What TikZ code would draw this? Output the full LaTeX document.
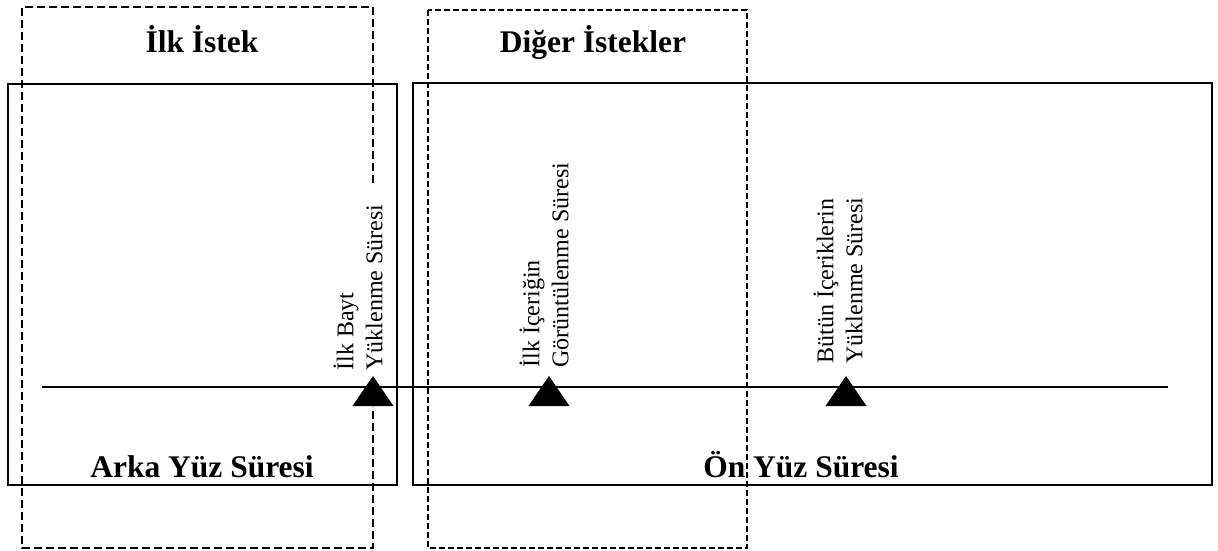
\documentclass[tikz,border=0pt]{standalone}
\usepackage{fontspec}
\setmainfont{Liberation Serif}
\usepackage{tikz}
\tikzstyle{phase}=[draw, line width=2.6pt]
\tikzstyle{request}=[draw, line width=2.2pt, dash pattern=on 8pt off 4pt]
\tikzstyle{title}=[inner sep=0pt, anchor=base, font=\fontsize{31.5}{36}\selectfont\bfseries]
\tikzstyle{event}=[inner sep=0pt, rotate=90, anchor=south west, align=left, font=\fontsize{24}{29}\selectfont]
\tikzstyle{marker}=[fill=black]

\begin{document}
\begin{tikzpicture}[x=1pt, y=-1pt, thick]
                    \useasboundingbox (0,0) rectangle (1218,551);
                    % back end and front end
                    \draw[phase] (8,84) rectangle (397,485);
                    \draw[phase] (413,83) rectangle (1212,485);
                    % requests
                    \draw[request] (373,183) -- (373,7) -- (22,7) -- (22,548) -- (373,548) -- (373,407);
                    \draw[request, dash pattern=on 6pt off 3pt] (428,10) rectangle (747,548);
                    \node[title] (r1) at (202,53) {İlk İstek};
                    \node[title] (r2) at (593,53) {Diğer İstekler};
                    \node[title] (p1) at (202,477) {Arka Yüz Süresi};
                    \node[title] (p2) at (801,477) {Ön Yüz Süresi};
                    % time line
                    \coordinate (s) at (42,387);
                    \coordinate (e) at (1168,387);
                    \draw[line width=1.4pt] (s) -- (e);
                    \coordinate (t1) at (373,376);
                    \coordinate (t2) at (549,376);
                    \coordinate (t3) at (846,376);
                    \fill[marker] (t1) -- ++(20.5,30) -- ++(-41,0) -- cycle;
                    \fill[marker] (t2) -- ++(20.5,30) -- ++(-41,0) -- cycle;
                    \fill[marker] (t3) -- ++(20.5,30) -- ++(-41,0) -- cycle;
                    \node[event] (e1) at (383,371) {İlk Bayt\\Yüklenme Süresi};
                    \node[event] (e2) at (569,368) {İlk İçeriğin\\Görüntülenme Süresi};
                    \node[event] (e3) at (863,364) {Bütün İçeriklerin\\Yüklenme Süresi};
                \end{tikzpicture}
\end{document}
